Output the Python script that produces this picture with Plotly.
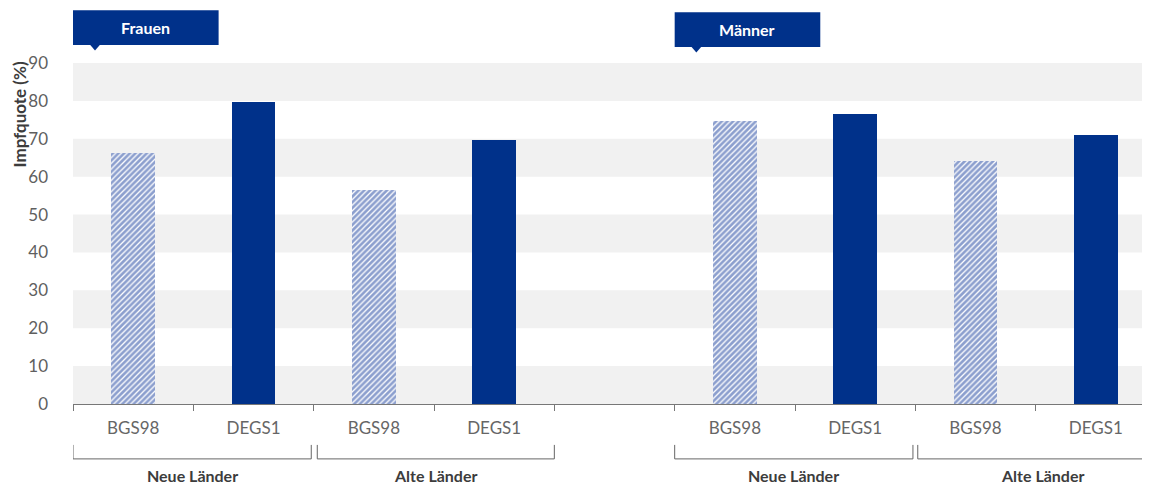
import plotly.graph_objects as go

# ---- data ----
slot_labels = ["BGS98", "DEGS1", "BGS98", "DEGS1", "", "BGS98", "DEGS1", "BGS98", "DEGS1"]
bgs98_x = [0, 2, 5, 7]
bgs98_vals = [66.3, 56.5, 74.8, 64.1]
degs1_x = [1, 3, 6, 8]
degs1_vals = [79.8, 69.8, 76.6, 71.1]
group_labels = ["Neue Länder", "Alte Länder", "Neue Länder", "Alte Länder"]
group_spans = [(-0.5, 1.48), (1.53, 3.5), (4.5, 6.48), (6.52, 8.6)]
panel_titles = ["Frauen", "Männer"]
panel_x = [(-0.5, 0.71, -0.317), (4.5, 5.71, 4.68)]
y_ticks = [0, 10, 20, 30, 40, 50, 60, 70, 80, 90]

BLUE = "#00318a"
HATCH = "#1a409e"
FONT = "Lato"

fig = go.Figure()
fig.add_trace(go.Bar(
    x=bgs98_x, y=bgs98_vals, width=0.365,
    marker=dict(color="white", line=dict(width=0),
                pattern=dict(shape="/", fgcolor=HATCH, bgcolor="white", size=4, solidity=0.68)),
    showlegend=False, hoverinfo="y"))
fig.add_trace(go.Bar(
    x=degs1_x, y=degs1_vals, width=0.365,
    marker=dict(color=BLUE, line=dict(width=0)),
    showlegend=False, hoverinfo="y"))

shapes = []
# alternating bands
for lo in range(0, 90, 20):
    shapes.append(dict(type="rect", xref="paper", yref="y", x0=0, x1=1, y0=lo, y1=lo + 10,
                       fillcolor="#f1f1f1", line=dict(width=0), layer="below"))

# brackets
ytop, ybot = -0.120, -0.161
annotations = []
for (a, b), lab in zip(group_spans, group_labels):
    shapes.append(dict(type="path", xref="x", yref="paper",
                       path=f"M {a},{ytop} L {a},{ybot} L {b},{ybot} L {b},{ytop}",
                       line=dict(color="#666666", width=1)))
    annotations.append(dict(x=(a + b) / 2, y=-0.211,
                            xref="x", yref="paper", text=f"<b>{lab}</b>", showarrow=False,
                            font=dict(family=FONT, size=16, color="#3c3c3c"),
                            xanchor="center", yanchor="middle"))

# panel title boxes
for (a, b, tip), title, (yt, yb) in zip(panel_x, panel_titles, [(1.155, 1.053), (1.149, 1.047)]):
    shapes.append(dict(type="rect", xref="x", yref="paper", x0=a, x1=b, y0=yb, y1=yt,
                       fillcolor=BLUE, line=dict(width=0)))
    shapes.append(dict(type="path", xref="x", yref="paper",
                       path=f"M {tip-0.045},{yb+0.002} L {tip+0.045},{yb+0.002} L {tip},{yb-0.016} Z",
                       fillcolor=BLUE, line=dict(width=0)))
    annotations.append(dict(x=(a + b) / 2, y=(yt + yb) / 2, xref="x", yref="paper",
                            text=f"<b>{title}</b>", showarrow=False,
                            font=dict(family=FONT, size=16, color="white"),
                            xanchor="center", yanchor="middle"))

# y-axis title placed near top like the reference
annotations.append(dict(x=-0.0495, y=0.848, xref="paper", yref="paper",
                        text="<b>Impfquote (%)</b>", showarrow=False, textangle=-90,
                        font=dict(family=FONT, size=17, color="#3c3c3c"),
                        xanchor="center", yanchor="middle"))

fig.update_layout(
    width=1142, height=476,
    margin=dict(l=65, r=0, t=55, b=80),
    paper_bgcolor="white", plot_bgcolor="white",
    bargap=0, barmode="overlay",
    shapes=shapes, annotations=annotations,
    font=dict(family=FONT, color="#5a5a5a"),
    xaxis=dict(range=[-0.5, 8.45], tickmode="array", tickvals=list(range(9)), ticktext=slot_labels,
               ticks="", showgrid=False, zeroline=False, showline=True, linecolor="#777777", linewidth=1,
               tickfont=dict(family=FONT, size=17, color="#666666"), ticklabelstandoff=9,
               minor=dict(tickmode="array", tickvals=[i - 0.5 for i in range(10)], ticks="outside",
                          ticklen=6, tickcolor="#777777", tickwidth=1, showgrid=False)),
    yaxis=dict(range=[0, 90], tickmode="array", tickvals=y_ticks, showgrid=False, zeroline=False,
               showline=False, ticks="", tickfont=dict(family=FONT, size=17, color="#5f5f5f"),
               ticklabelstandoff=24),
)

fig.write_html("out.html")
